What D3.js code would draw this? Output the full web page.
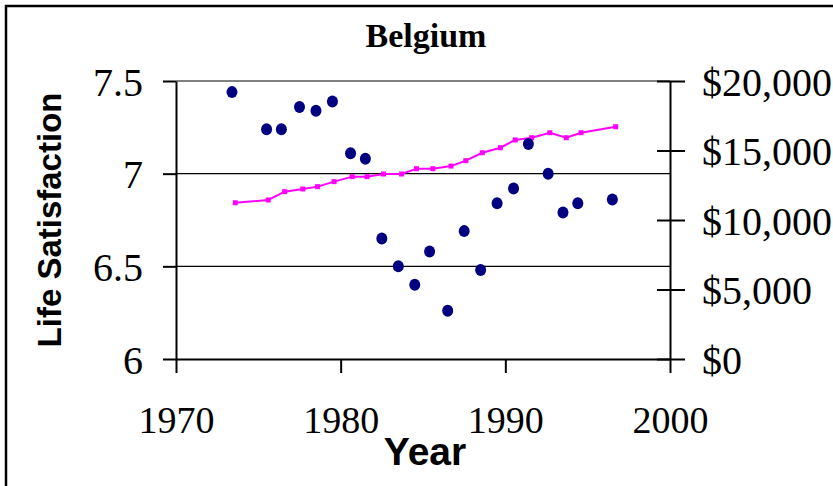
<!DOCTYPE html>
<html>
<head>
<meta charset="utf-8">
<script src="https://cdn.jsdelivr.net/npm/d3@7"></script>
<style>
  body { margin: 0; background: #fff; }
  svg { display: block; }
</style>
</head>
<body>
<div id="hook"></div>
<script>
// Data
var lsYears  = [1973.4, 1975.5, 1976.4, 1977.5, 1978.5, 1979.5, 1980.6, 1981.5, 1982.5, 1983.5, 1984.5,
                1985.4, 1986.5, 1987.5, 1988.5, 1989.5, 1990.5, 1991.4, 1992.6, 1993.5, 1994.4, 1996.5];
var lsValues = [7.44, 7.24, 7.24, 7.36, 7.34, 7.39, 7.11, 7.08, 6.65, 6.50, 6.40,
                6.58, 6.26, 6.69, 6.48, 6.84, 6.92, 7.16, 7.00, 6.79, 6.84, 6.86];
var incomeYears  = [1973.6, 1975.6, 1976.6, 1977.7, 1978.6, 1979.6, 1980.7, 1981.6, 1982.6, 1983.7, 1984.6,
                    1985.6, 1986.7, 1987.6, 1988.6, 1989.7, 1990.6, 1991.6, 1992.7, 1993.7, 1994.6, 1996.7];
var incomeValues = [11240, 11440, 12040, 12230, 12400, 12760, 13120, 13120, 13310, 13310, 13690,
                    13690, 13880, 14270, 14840, 15200, 15760, 15920, 16280, 15920, 16280, 16710];
var xTicks = [1970, 1980, 1990, 2000];
var lsTicks = [6, 6.5, 7, 7.5];
var incomeTicks = [0, 5000, 10000, 15000, 20000];
var gridTicks = [6.5, 7];

var W = 833, H = 486;
var plotLeft = 176, plotRight = 670, plotTop = 81, plotBottom = 359;
var serif = "'Liberation Serif', 'Times New Roman', serif";
var sans = "'Liberation Sans', Arial, sans-serif";

var svg = d3.select("#hook").append("svg")
    .attr("width", W)
    .attr("height", H);

// outer frame (only left and top edges show)
svg.append("rect")
    .attr("x", 6).attr("y", 6)
    .attr("width", 1000).attr("height", 1000)
    .attr("fill", "none")
    .attr("stroke", "#000")
    .attr("stroke-width", 2.5);

// scales
var x = d3.scaleLinear().domain([1970, 2000]).range([plotLeft, plotRight]);
var yL = d3.scaleLinear().domain([6, 7.5]).range([plotBottom, plotTop]);
var yR = d3.scaleLinear().domain([0, 20000]).range([plotBottom, plotTop]);

// gridlines
svg.selectAll("line.grid")
    .data(gridTicks)
    .enter().append("line")
        .attr("class", "grid")
        .attr("x1", plotLeft).attr("x2", plotRight)
        .attr("y1", function(d) { return yL(d); })
        .attr("y2", function(d) { return yL(d); })
        .attr("stroke", "#000")
        .attr("stroke-width", 1.2);

// gray top edge of the plot area
svg.append("line")
    .attr("x1", plotLeft).attr("x2", plotRight)
    .attr("y1", yL(7.5)).attr("y2", yL(7.5))
    .attr("stroke", "#808080")
    .attr("stroke-width", 2);

// axes
function styleAxis(g, size) {
    g.select(".domain").attr("stroke", "#000").attr("stroke-width", 2);
    g.selectAll(".tick line").attr("stroke", "#000").attr("stroke-width", 2);
    g.selectAll(".tick text")
        .attr("fill", "#000")
        .style("font-family", serif)
        .style("font-size", size + "px");
}

var gx = svg.append("g")
    .attr("transform", "translate(0," + plotBottom + ")")
    .call(d3.axisBottom(x).tickValues(xTicks).tickFormat(d3.format("d")).tickSize(14).tickSizeOuter(0));
styleAxis(gx, 38);
gx.selectAll(".tick text").attr("dy", 0).attr("y", 74);

var gl = svg.append("g")
    .attr("transform", "translate(" + plotLeft + ",0)")
    .call(d3.axisLeft(yL).tickValues(lsTicks).tickFormat(d3.format("")).tickSize(13).tickSizeOuter(0).tickPadding(20));
styleAxis(gl, 40);
gl.selectAll(".tick text").attr("dy", 0).attr("y", 14);

var gr = svg.append("g")
    .attr("transform", "translate(" + plotRight + ",0)")
    .call(d3.axisRight(yR).tickValues(incomeTicks).tickFormat(function(d) { return "$" + d3.format(",")(d); })
        .tickSize(15).tickSizeOuter(0).tickPadding(17));
styleAxis(gr, 40);
gr.selectAll(".tick line").attr("x1", -13);
gr.selectAll(".tick text").attr("dy", 0).attr("y", 14);

// income line + square markers
var incomeData = incomeYears.map(function(d, i) { return { year: d, value: incomeValues[i] }; });
svg.append("path")
    .datum(incomeData)
    .attr("fill", "none")
    .attr("stroke", "#FF00FF")
    .attr("stroke-width", 2)
    .attr("d", d3.line()
        .x(function(d) { return x(d.year); })
        .y(function(d) { return yR(d.value); }));
svg.selectAll("rect.marker")
    .data(incomeData)
    .enter().append("rect")
        .attr("class", "marker")
        .attr("x", function(d) { return x(d.year) - 2.5; })
        .attr("y", function(d) { return yR(d.value) - 2.5; })
        .attr("width", 5).attr("height", 5)
        .attr("fill", "#FF00FF");

// life satisfaction points
var lsData = lsYears.map(function(d, i) { return { year: d, value: lsValues[i] }; });
svg.selectAll("ellipse.pt")
    .data(lsData)
    .enter().append("ellipse")
        .attr("class", "pt")
        .attr("cx", function(d) { return x(d.year); })
        .attr("cy", function(d) { return yL(d.value); })
        .attr("rx", 5.5).attr("ry", 6)
        .attr("fill", "#000080");

// titles
svg.append("text")
    .attr("x", 426).attr("y", 47)
    .attr("text-anchor", "middle")
    .style("font-family", serif)
    .style("font-weight", "bold")
    .style("font-size", "34px")
    .text("Belgium");

svg.append("text")
    .attr("x", 425).attr("y", 465)
    .attr("text-anchor", "middle")
    .style("font-family", sans)
    .style("font-weight", "bold")
    .style("font-size", "39px")
    .text("Year");

svg.append("text")
    .attr("transform", "translate(61,220) rotate(-90)")
    .attr("text-anchor", "middle")
    .style("font-family", sans)
    .style("font-weight", "bold")
    .style("font-size", "33px")
    .text("Life Satisfaction");
</script>
</body>
</html>
